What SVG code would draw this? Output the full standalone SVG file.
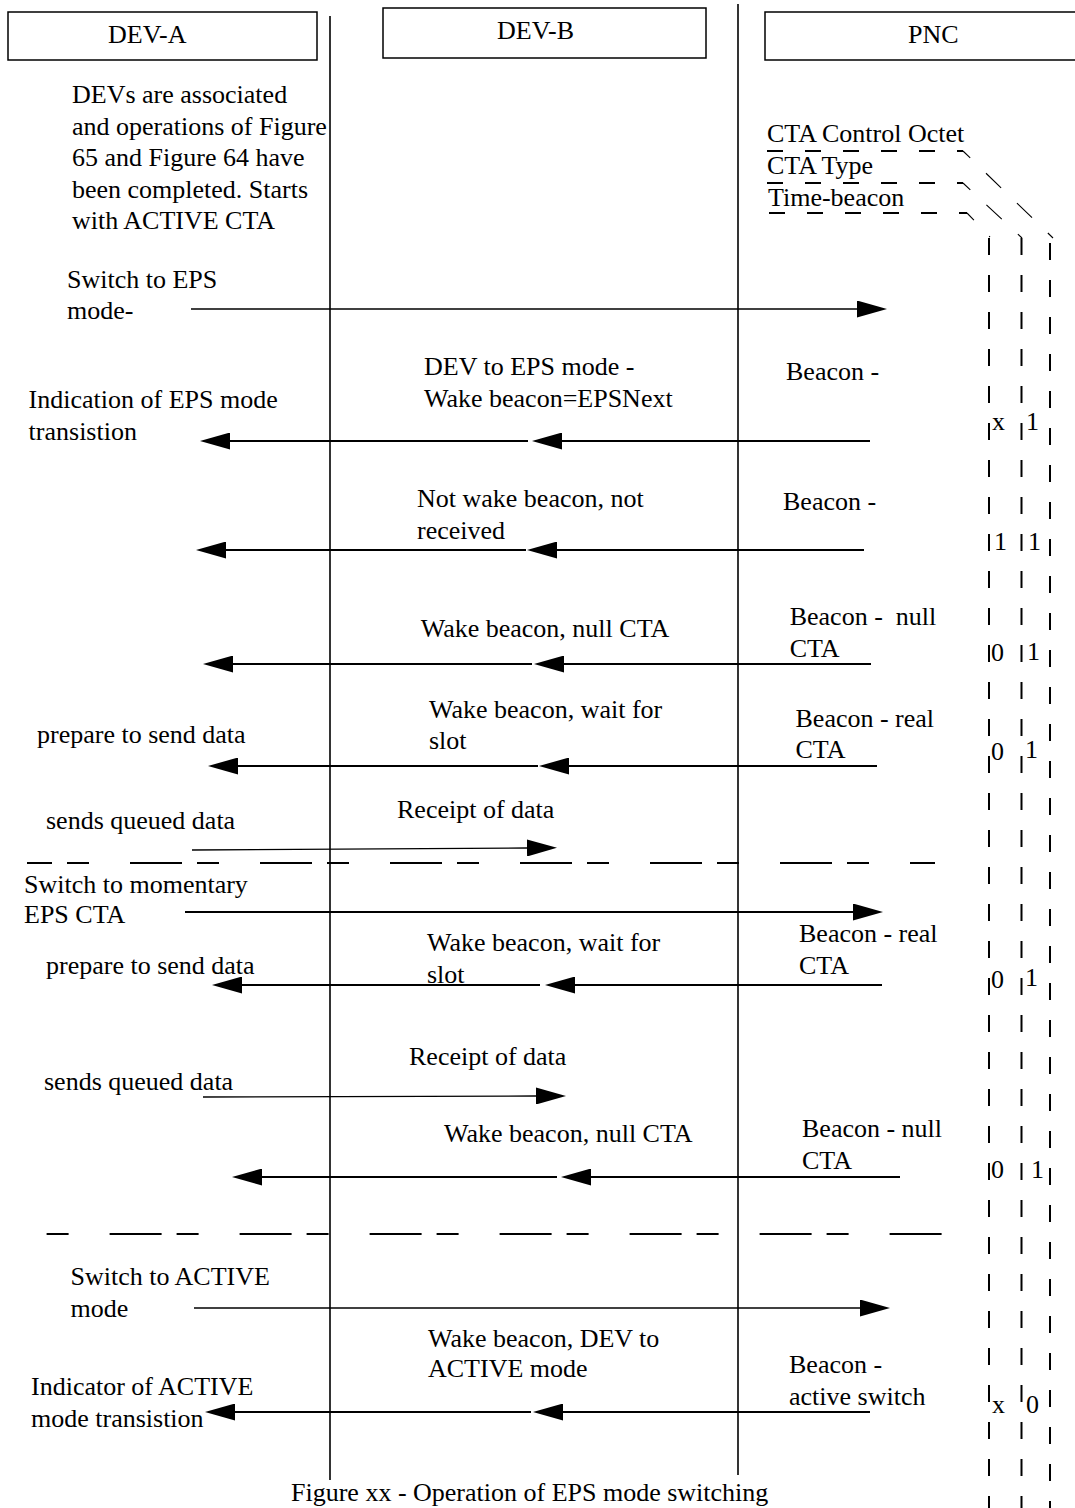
<svg xmlns="http://www.w3.org/2000/svg" width="1075" height="1508" viewBox="0 0 1075 1508">
<style>
text { font-family: "Liberation Serif", "Times New Roman", serif; font-size: 26px; fill: #000; }
.box { fill: #fff; stroke: #000; stroke-width: 1.5; }
.life { stroke: #000; stroke-width: 1.6; fill: none; }
.msg { stroke: #000; stroke-width: 2.2; fill: none; marker-end: url(#ah); }
.thin { stroke: #000; stroke-width: 1.3; fill: none; marker-end: url(#ah); }
.sep { stroke: #000; stroke-width: 2; stroke-dasharray: 52 15 22 41; fill: none; }
.fld { stroke: #000; stroke-width: 2; stroke-dasharray: 16 22; fill: none; }
.fldd { stroke: #000; stroke-width: 1.1; stroke-dasharray: 21 22; fill: none; }
.fldv { stroke: #000; stroke-width: 2; stroke-dasharray: 17 20; fill: none; }
</style>
<defs>
<marker id="ah" viewBox="0 0 30 17" refX="0" refY="8.5" markerWidth="30" markerHeight="17" markerUnits="userSpaceOnUse" orient="auto">
<path d="M0,0 L30,8.5 L0,17 Z" fill="#000"/>
</marker>
</defs>
<rect width="1075" height="1508" fill="#fff"/>

<g id="lifelines">
<line class="life" x1="330" y1="16" x2="330" y2="1480"/>
<line class="life" x1="738" y1="4" x2="738" y2="1475"/>
</g>

<g id="dev-a">
<rect class="box" x="8" y="12" width="309" height="48"/>
<text x="108" y="43">DEV-A</text>
</g>
<g id="dev-b">
<rect class="box" x="383" y="8" width="323" height="50"/>
<text x="497" y="39">DEV-B</text>
</g>
<g id="pnc">
<rect class="box" x="765" y="12" width="320" height="48"/>
<text x="908" y="43">PNC</text>
</g>

<g id="note-start">
<text x="72" y="103">DEVs are associated</text>
<text x="72" y="134.5">and operations of Figure</text>
<text x="72" y="166">65 and Figure 64 have</text>
<text x="72" y="197.5">been completed. Starts</text>
<text x="72" y="229">with ACTIVE CTA</text>
</g>

<g id="cta-fields">
<text x="767" y="142">CTA Control Octet</text>
<text x="767" y="174">CTA Type</text>
<text x="768" y="206">Time-beacon</text>
<line class="fld" x1="767" y1="151" x2="963" y2="151"/>
<line class="fld" x1="767" y1="183" x2="963" y2="183"/>
<line class="fld" x1="769" y1="213" x2="967" y2="213"/>
<line class="fldd" x1="963" y1="151" x2="1053" y2="238" stroke-dashoffset="11"/>
<line class="fldd" x1="963" y1="183" x2="1022" y2="238" stroke-dashoffset="11"/>
<line class="fldd" x1="967" y1="213" x2="990" y2="237" stroke-dashoffset="11"/>
<line class="fldv" x1="989" y1="238" x2="989" y2="1508"/>
<line class="fldv" x1="1021.5" y1="238" x2="1021.5" y2="1508"/>
<line class="fldv" x1="1050" y1="243" x2="1050" y2="1508"/>
<text x="992" y="430">x</text><text x="1026" y="430">1</text>
<text x="994" y="550">1</text><text x="1028" y="550">1</text>
<text x="991" y="661">0</text><text x="1027" y="660">1</text>
<text x="991" y="760">0</text><text x="1025" y="758">1</text>
<text x="991" y="988">0</text><text x="1025" y="986">1</text>
<text x="991" y="1178">0</text><text x="1031" y="1178">1</text>
<text x="992" y="1413">x</text><text x="1026" y="1413">0</text>
</g>

<g id="separators">
<line class="sep" x1="27" y1="863" x2="935" y2="863" stroke-dashoffset="27"/>
<line class="sep" x1="46.6" y1="1234" x2="956" y2="1234" stroke-dashoffset="67"/>
</g>

<g id="connectors">
<line class="thin" x1="191" y1="309" x2="857" y2="309"/>
<line class="msg" x1="870" y1="441" x2="562" y2="441"/>
<line class="msg" x1="528" y1="441" x2="230" y2="441"/>
<line class="msg" x1="864" y1="550" x2="557" y2="550"/>
<line class="msg" x1="526" y1="550" x2="226" y2="550"/>
<line class="msg" x1="871" y1="664" x2="564" y2="664"/>
<line class="msg" x1="532" y1="664" x2="233" y2="664"/>
<line class="msg" x1="877" y1="766" x2="569" y2="766"/>
<line class="msg" x1="538" y1="766" x2="238" y2="766"/>
<line class="thin" x1="192" y1="850" x2="527" y2="848"/>
<line class="msg" x1="185" y1="912" x2="853" y2="912"/>
<line class="msg" x1="882" y1="985" x2="575" y2="985"/>
<line class="msg" x1="540" y1="985" x2="242" y2="985"/>
<line class="thin" x1="203" y1="1097" x2="536" y2="1096"/>
<line class="msg" x1="900" y1="1177" x2="591" y2="1177"/>
<line class="msg" x1="557" y1="1177" x2="262" y2="1177"/>
<line class="thin" x1="194" y1="1308" x2="860" y2="1308"/>
<line class="msg" x1="870" y1="1412" x2="563" y2="1412"/>
<line class="msg" x1="531" y1="1412" x2="235" y2="1412"/>
</g>

<g id="labels">
<text x="67" y="288">Switch to EPS</text>
<text x="67" y="319">mode-</text>
<text x="424" y="375">DEV to EPS mode -</text>
<text x="424" y="407">Wake beacon=EPSNext</text>
<text x="786" y="380">Beacon -</text>
<text x="28.6" y="408">Indication of EPS mode</text>
<text x="28.6" y="440">transistion</text>
<text x="417" y="507">Not wake beacon, not</text>
<text x="417" y="539">received</text>
<text x="783" y="510">Beacon -</text>
<text x="420.7" y="637">Wake beacon, null CTA</text>
<text x="789.7" y="625" xml:space="preserve">Beacon -  null</text>
<text x="789.7" y="657">CTA</text>
<text x="429" y="718">Wake beacon, wait for</text>
<text x="429" y="749">slot</text>
<text x="795.5" y="727">Beacon - real</text>
<text x="795.5" y="758">CTA</text>
<text x="37" y="743">prepare to send data</text>
<text x="397" y="818">Receipt of data</text>
<text x="46" y="829">sends queued data</text>
<text x="24" y="893">Switch to momentary</text>
<text x="24" y="923">EPS CTA</text>
<text x="427" y="951">Wake beacon, wait for</text>
<text x="427" y="983">slot</text>
<text x="799" y="942">Beacon - real</text>
<text x="799" y="974">CTA</text>
<text x="46" y="974">prepare to send data</text>
<text x="409" y="1065">Receipt of data</text>
<text x="44" y="1090">sends queued data</text>
<text x="444" y="1142">Wake beacon, null CTA</text>
<text x="802" y="1137">Beacon - null</text>
<text x="802" y="1169">CTA</text>
<text x="70.5" y="1285">Switch to ACTIVE</text>
<text x="70.5" y="1317">mode</text>
<text x="428" y="1347">Wake beacon, DEV to</text>
<text x="428" y="1377">ACTIVE mode</text>
<text x="789" y="1373">Beacon -</text>
<text x="789" y="1405">active switch</text>
<text x="31" y="1395">Indicator of ACTIVE</text>
<text x="31" y="1427">mode transistion</text>
<text x="291" y="1501">Figure xx - Operation of EPS mode switching</text>
</g>
</svg>
